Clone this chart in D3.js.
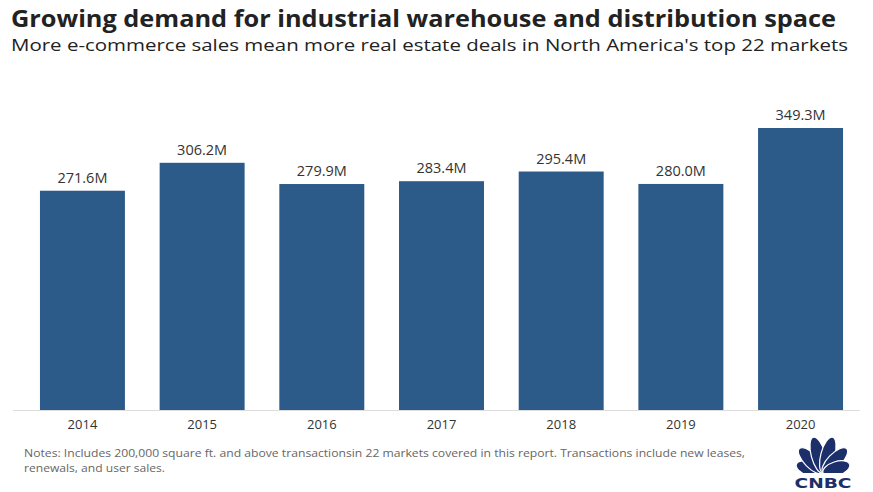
<!DOCTYPE html>
<html><head><meta charset="utf-8">
<script src="https://cdn.jsdelivr.net/npm/d3@7"></script>
<style>
body{margin:0;background:#fff;}
svg{display:block;}
</style></head>
<body>
<svg id="chart" width="873" height="492"></svg>
<script>
const years = ["2014","2015","2016","2017","2018","2019","2020"];
const values = [271.6, 306.2, 279.9, 283.4, 295.4, 280.0, 349.3];
const valueLabels = ["271.6M","306.2M","279.9M","283.4M","295.4M","280.0M","349.3M"];
const title = "Growing demand for industrial warehouse and distribution space";
const subtitle = "More e-commerce sales mean more real estate deals in North America's top 22 markets";
const notes = ["Notes: Includes 200,000 square ft. and above transactionsin 22 markets covered in this report. Transactions include new leases,",
               "renewals, and user sales."];

const svg = d3.select("#chart");
const font = "'Open Sans', Lato, sans-serif";
const baseY = 410;

svg.append("text").attr("x",11).attr("y",27).attr("font-family",font).attr("font-weight",700)
  .attr("font-size",24).attr("fill","#222").attr("textLength",825).attr("lengthAdjust","spacingAndGlyphs").text(title);
svg.append("text").attr("x",11).attr("y",51).attr("font-family",font)
  .attr("font-size",16.5).attr("fill","#222").attr("textLength",837).attr("lengthAdjust","spacingAndGlyphs").text(subtitle);

const x = d3.scaleBand().domain(years).range([22,861]).paddingInner(0.29).paddingOuter(0.15);
const y = d3.scaleLinear().domain([0,349.3]).range([baseY, 128]);

svg.append("line").attr("x1",13).attr("x2",860).attr("y1",baseY+0.5).attr("y2",baseY+0.5)
  .attr("stroke","#ddd").attr("stroke-width",1);

svg.selectAll("rect.bar").data(values).join("rect").attr("class","bar")
  .attr("x",(d,i)=>x(years[i])).attr("width",x.bandwidth())
  .attr("y",d=>y(d)).attr("height",d=>baseY-y(d)).attr("fill","#2c5b8a");

svg.selectAll("text.val").data(values).join("text").attr("class","val")
  .attr("x",(d,i)=>x(years[i])+x.bandwidth()/2).attr("y",d=>y(d)-8)
  .attr("text-anchor","middle").attr("font-family",font).attr("font-size",14.5).attr("fill","#333")
  .text((d,i)=>valueLabels[i]);

const ax = svg.append("g").attr("transform",`translate(0,${baseY})`)
  .call(d3.axisBottom(x).tickSize(0).tickPadding(10));
ax.select(".domain").remove();
ax.selectAll("text").attr("font-family",font).attr("font-size",13).attr("fill","#333");

svg.selectAll("text.note").data(notes).join("text").attr("class","note")
  .attr("x",24).attr("y",(d,i)=>457+i*15).attr("font-family",font).attr("font-size",11).attr("fill","#666")
  .attr("textLength",(d,i)=>i===0?721:141).attr("lengthAdjust","spacingAndGlyphs")
  .text(d=>d);

// CNBC peacock logo
const logo = svg.append("g").attr("transform","translate(823,473)");
const navy = "#1d2f6b";
const angles = [-72,-44,-15,15,44,72];
const lens = [14,17,18.5,18.5,17,14];
angles.forEach((a,i)=>{
  logo.append("ellipse").attr("cx",0).attr("cy",-lens[i]).attr("rx",7).attr("ry",lens[i])
    .attr("transform",`rotate(${a})`).attr("fill",navy).attr("stroke","#fff").attr("stroke-width",1.2);
});
logo.append("rect").attr("x",-32).attr("y",0).attr("width",64).attr("height",20).attr("fill","#fff");
logo.append("text").attr("x",0).attr("y",15).attr("text-anchor","middle").attr("font-family","'DejaVu Sans', sans-serif")
  .attr("font-weight",700).attr("font-size",14).attr("fill",navy).attr("textLength",57).attr("lengthAdjust","spacingAndGlyphs").text("CNBC");
</script>
</body></html>
